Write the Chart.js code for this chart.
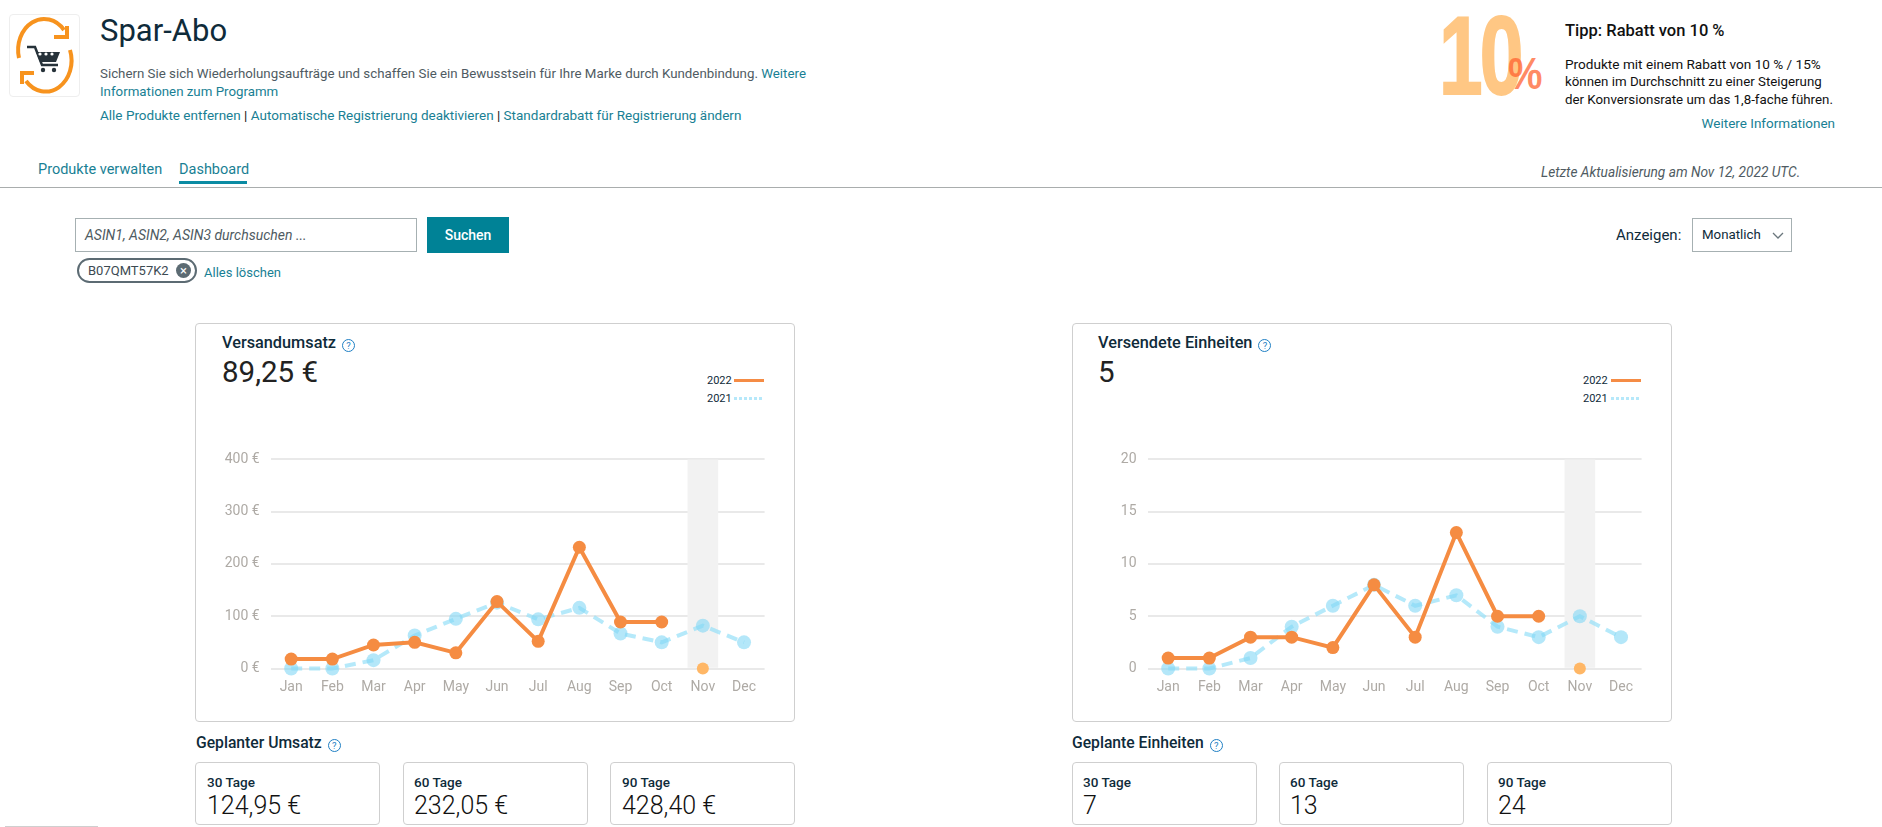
<!DOCTYPE html>
<html lang="de">
<head>
<meta charset="utf-8">
<title>Spar-Abo</title>
<script src="https://cdn.jsdelivr.net/npm/chart.js@4"></script>
<style>
html, body { margin: 0; padding: 0; background: #fff; overflow: hidden; }
#page { position: relative; width: 1882px; height: 827px; overflow: hidden; font-family: Roboto, sans-serif; color: #0f2b3a; }
#page > * { position: absolute; white-space: nowrap; }
.line { font-size: 13.3px; line-height: 20px; height: 20px; }
.grey { color: #4f5b62; }
.link { color: #197f94; }
.black { color: #111; }
.box { box-sizing: border-box; border: 1px solid #cfcfcf; border-radius: 4px; background: #fff; }
.help { display: inline-block; box-sizing: border-box; width: 13px; height: 13px; border: 1px solid #1f7fc4; border-radius: 50%; color: #1f7fc4; font-size: 9.5px; line-height: 11px; text-align: center; font-weight: 400; vertical-align: -1px; margin-left: 6px; }
.head { font-size: 16.3px; font-weight: 500; line-height: 20px; height: 20px; }
.big { font-size: 29.5px; line-height: 32px; height: 32px; color: #222; }
.legend { font-size: 11px; line-height: 14px; height: 14px; }
.tick { height: 3px; width: 30px; }
.label { font-size: 13.5px; font-weight: 500; line-height: 16px; height: 16px; }
.value { font-size: 25px; line-height: 26px; height: 26px; font-weight: 300; color: #111; }
canvas { display: block; }
</style>
</head>
<body>
<div id="page">
  <div class="box" style="left:9px;top:14px;width:71px;height:83px;border-color:#eee"></div>
  <svg style="left:0;top:0" width="90" height="100" viewBox="0 0 90 100">
    <path d="M19 58 A26 31 0 0 1 64 30" fill="none" stroke="#f7931e" stroke-width="4"/>
    <path d="M70 50 A26 31 0 0 1 26 81" fill="none" stroke="#f7931e" stroke-width="4"/>
    <path d="M54 37 L67 37 L67 26" fill="none" stroke="#f7931e" stroke-width="4"/>
    <path d="M34 73 L22 73 L22 84" fill="none" stroke="#f7931e" stroke-width="4"/>
    <path d="M27 47 L35 47 L42 65 L58 65" fill="none" stroke="#26323a" stroke-width="2.5"/>
    <path d="M36 52 L60 52 L56 62 L40 62 Z" fill="#26323a"/>
    <circle cx="40" cy="54" r="1.6" fill="#fff"/><circle cx="46" cy="54" r="1.6" fill="#fff"/><circle cx="52" cy="54" r="1.6" fill="#fff"/>
    <circle cx="43" cy="70" r="2.2" fill="#26323a"/><circle cx="54" cy="70" r="2.2" fill="#26323a"/>
  </svg>

  <div style="left:100px;top:12px;font-size:31px;line-height:38px">Spar-Abo</div>
  <div class="line grey" style="left:100px;top:64px">Sichern Sie sich Wiederholungsaufträge und schaffen Sie ein Bewusstsein für Ihre Marke durch Kundenbindung. <span class="link">Weitere</span></div>
  <div class="line link" style="left:100px;top:82px">Informationen zum Programm</div>
  <div class="line link" style="left:100px;top:105px;font-size:13.5px">Alle Produkte entfernen <span class="black">|</span> Automatische Registrierung deaktivieren <span class="black">|</span> Standardrabatt für Registrierung ändern</div>

  <div style="left:1439px;top:-8px;font-family:'Liberation Sans';font-weight:700;font-size:112px;line-height:128px;letter-spacing:-4px;color:#ffc784;-webkit-text-stroke:2px #ffc784;transform:scaleX(.7);transform-origin:left">10</div>
  <div style="left:1508px;top:48px;font-family:'Liberation Sans';font-weight:700;font-size:44px;line-height:52px;color:rgba(255,100,50,.75);transform:scaleX(.88);transform-origin:left">%</div>
  <div class="head black" style="left:1565px;top:21px;font-size:16.5px">Tipp: Rabatt von 10 %</div>
  <div class="line black" style="left:1565px;top:54px;font-size:13.6px">Produkte mit einem Rabatt von 10 % / 15%</div>
  <div class="line black" style="left:1565px;top:72px">können im Durchschnitt zu einer Steigerung</div>
  <div class="line black" style="left:1565px;top:90px">der Konversionsrate um das 1,8-fache führen.</div>
  <div class="line link" style="right:47px;top:113px;font-size:13.5px">Weitere Informationen</div>

  <div class="line link" style="left:38px;top:160px;font-size:14.5px">Produkte verwalten</div>
  <div class="line link" style="left:179px;top:160px;font-size:14.5px">Dashboard</div>
  <div style="left:179px;top:181px;width:68px;height:3px;background:#0a8ba3"></div>
  <div class="line grey" style="left:1541px;top:162px;font-style:italic;font-size:13.7px">Letzte Aktualisierung am Nov 12, 2022 UTC.</div>
  <div style="left:0;top:187px;width:1882px;height:1px;background:#a9adad"></div>

  <div class="line grey" style="left:75px;top:218px;box-sizing:border-box;width:342px;height:34px;border:1px solid #a6b0b2;padding:6px 9px;font-style:italic;font-size:14px">ASIN1, ASIN2, ASIN3 durchsuchen ...</div>
  <div style="left:427px;top:217px;width:82px;height:36px;background:#008296;color:#fff;font-size:14px;font-weight:500;line-height:36px;text-align:center">Suchen</div>
  <div style="left:77px;top:258px;box-sizing:border-box;width:120px;height:25px;border:2px solid #5c6b73;border-radius:13px;font-size:13px;line-height:21px;padding-left:9px;color:#3c4a52">B07QMT57K2</div>
  <div style="left:176px;top:263px;width:15px;height:15px;border-radius:50%;background:#5c6b73;color:#fff;font-size:13px;line-height:15px;text-align:center">×</div>
  <div class="line link" style="left:204px;top:263px;font-size:13px">Alles löschen</div>

  <div style="left:1616px;top:225px;font-size:15px;line-height:20px">Anzeigen:</div>
  <div class="line" style="left:1692px;top:218px;box-sizing:border-box;width:100px;height:34px;border:1px solid #a6b0b2;padding:6px 9px">Monatlich</div>
  <svg style="left:1772px;top:232px" width="12" height="8" viewBox="0 0 12 8"><path d="M1 1 L6 6 L11 1" fill="none" stroke="#6b777d" stroke-width="1.3"/></svg>

  <div class="box" style="left:195px;top:323px;width:600px;height:399px"></div>
  <div class="head" style="left:222px;top:333px">Versandumsatz<span class="help">?</span></div>
  <div class="big" style="left:222px;top:356px">89,25 €</div>
  <div class="legend" style="left:707px;top:374px">2022</div>
  <div class="tick" style="left:734px;top:379px;background:#f58c45"></div>
  <div class="legend" style="left:707px;top:392px">2021</div>
  <div class="tick" style="left:734px;top:397px;background:repeating-linear-gradient(90deg,#b6e8fa 0 3px,transparent 3px 5px)"></div>
  <div style="left:200px;top:440px;width:590px;height:275px"><canvas id="revenue_chart"></canvas></div>

  <div class="head" style="left:196px;top:733px;font-size:15.7px">Geplanter Umsatz<span class="help">?</span></div>
  <div class="box" style="left:195px;top:762px;width:185px;height:63px"></div>
  <div class="label" style="left:207px;top:774px">30 Tage</div>
  <div class="value" style="left:207px;top:793px">124,95 €</div>
  <div class="box" style="left:403px;top:762px;width:185px;height:63px"></div>
  <div class="label" style="left:414px;top:774px">60 Tage</div>
  <div class="value" style="left:414px;top:793px">232,05 €</div>
  <div class="box" style="left:610px;top:762px;width:185px;height:63px"></div>
  <div class="label" style="left:622px;top:774px">90 Tage</div>
  <div class="value" style="left:622px;top:793px">428,40 €</div>

  <div class="box" style="left:1072px;top:323px;width:600px;height:399px"></div>
  <div class="head" style="left:1098px;top:333px">Versendete Einheiten<span class="help">?</span></div>
  <div class="big" style="left:1098px;top:356px">5</div>
  <div class="legend" style="left:1583px;top:374px">2022</div>
  <div class="tick" style="left:1611px;top:379px;background:#f58c45"></div>
  <div class="legend" style="left:1583px;top:392px">2021</div>
  <div class="tick" style="left:1611px;top:397px;background:repeating-linear-gradient(90deg,#b6e8fa 0 3px,transparent 3px 5px)"></div>
  <div style="left:1077px;top:440px;width:590px;height:275px"><canvas id="units_chart"></canvas></div>

  <div class="head" style="left:1072px;top:733px;font-size:15.7px">Geplante Einheiten<span class="help">?</span></div>
  <div class="box" style="left:1072px;top:762px;width:185px;height:63px"></div>
  <div class="label" style="left:1083px;top:774px">30 Tage</div>
  <div class="value" style="left:1083px;top:793px">7</div>
  <div class="box" style="left:1279px;top:762px;width:185px;height:63px"></div>
  <div class="label" style="left:1290px;top:774px">60 Tage</div>
  <div class="value" style="left:1290px;top:793px">13</div>
  <div class="box" style="left:1487px;top:762px;width:185px;height:63px"></div>
  <div class="label" style="left:1498px;top:774px">90 Tage</div>
  <div class="value" style="left:1498px;top:793px">24</div>

  <div style="left:5px;top:826px;width:93px;height:1px;background:#cfcfcf"></div>
</div>

<script>
// data
const months = ["Jan", "Feb", "Mar", "Apr", "May", "Jun", "Jul", "Aug", "Sep", "Oct", "Nov", "Dec"];
const revenue2022 = [18, 18, 45, 50, 30, 128, 52, 232, 89, 89, null, null];
const revenue2021 = [0, 0, 16, 63, 95, 126, 94, 116, 67, 50, 82, 50];
const revenueTicks = [0, 100, 200, 300, 400];
const units2022 = [1, 1, 3, 3, 2, 8, 3, 13, 5, 5, null, null];
const units2021 = [0, 0, 1, 4, 6, 8, 6, 7, 4, 3, 5, 3];
const unitsTicks = [0, 5, 10, 15, 20];
// current month: grey band up to the axis max, and the still empty 2022 point
const currentMonth = [null, null, null, null, null, null, null, null, null, null, 0, null];

const tickColor = "#aeaaa5";
const orange = "#f58c42";
const blueLine = "rgba(150,223,248,0.7)";
const bluePoint = "rgba(130,215,245,0.6)";

function buildChart(id, thisYear, lastYear, ticks, suffix) {
    const max = ticks[ticks.length - 1];
    new Chart(document.querySelector(id).getContext("2d"), {
        data: {
            labels: months,
            datasets: [
                {
                    type: "line",
                    label: "2022 aktuell",
                    data: currentMonth,
                    showLine: false,
                    pointRadius: 6,
                    pointBackgroundColor: "#ffb766",
                    pointBorderWidth: 0,
                    clip: false,
                    order: 0,
                },
                {
                    type: "line",
                    label: "2022",
                    data: thisYear,
                    borderColor: orange,
                    borderWidth: 4,
                    pointRadius: 6.5,
                    pointBackgroundColor: orange,
                    pointBorderWidth: 0,
                    tension: 0,
                    clip: false,
                    order: 1,
                },
                {
                    type: "line",
                    label: "2021",
                    data: lastYear,
                    borderColor: blueLine,
                    borderWidth: 4,
                    borderDash: [11, 7],
                    pointRadius: 7,
                    pointBackgroundColor: bluePoint,
                    pointBorderWidth: 0,
                    tension: 0,
                    clip: false,
                    order: 2,
                },
                {
                    type: "bar",
                    label: "Aktueller Monat",
                    data: currentMonth.map((v) => (v === null ? null : max)),
                    backgroundColor: "#f2f2f2",
                    barThickness: 30,
                    order: 3,
                },
            ],
        },
        options: {
            responsive: true,
            maintainAspectRatio: false,
            animation: false,
            layout: {
                padding: { top: 18.7, right: 25.4, bottom: 0, left: 0 },
            },
            plugins: {
                legend: { display: false },
            },
            scales: {
                x: {
                    offset: true,
                    grid: { display: false },
                    border: { display: false },
                    ticks: {
                        color: tickColor,
                        font: { family: "Roboto", size: 14 },
                        padding: 3,
                        maxRotation: 0,
                        autoSkip: false,
                    },
                    afterFit: (scale) => { scale.height = 46.5; },
                },
                y: {
                    min: 0,
                    max: max,
                    grid: { color: "#e9e9e9", lineWidth: 2, drawTicks: false },
                    border: { display: false },
                    afterBuildTicks: (scale) => {
                        scale.ticks = ticks.map((value) => ({ value: value }));
                    },
                    ticks: {
                        color: tickColor,
                        font: { family: "Roboto", size: 14 },
                        padding: 11,
                        callback: (value) => value + suffix,
                    },
                    afterFit: (scale) => { scale.width = 70.6; },
                },
            },
        },
    });
}

buildChart("#revenue_chart", revenue2022, revenue2021, revenueTicks, " €");
buildChart("#units_chart", units2022, units2021, unitsTicks, "");
</script>
</body>
</html>
